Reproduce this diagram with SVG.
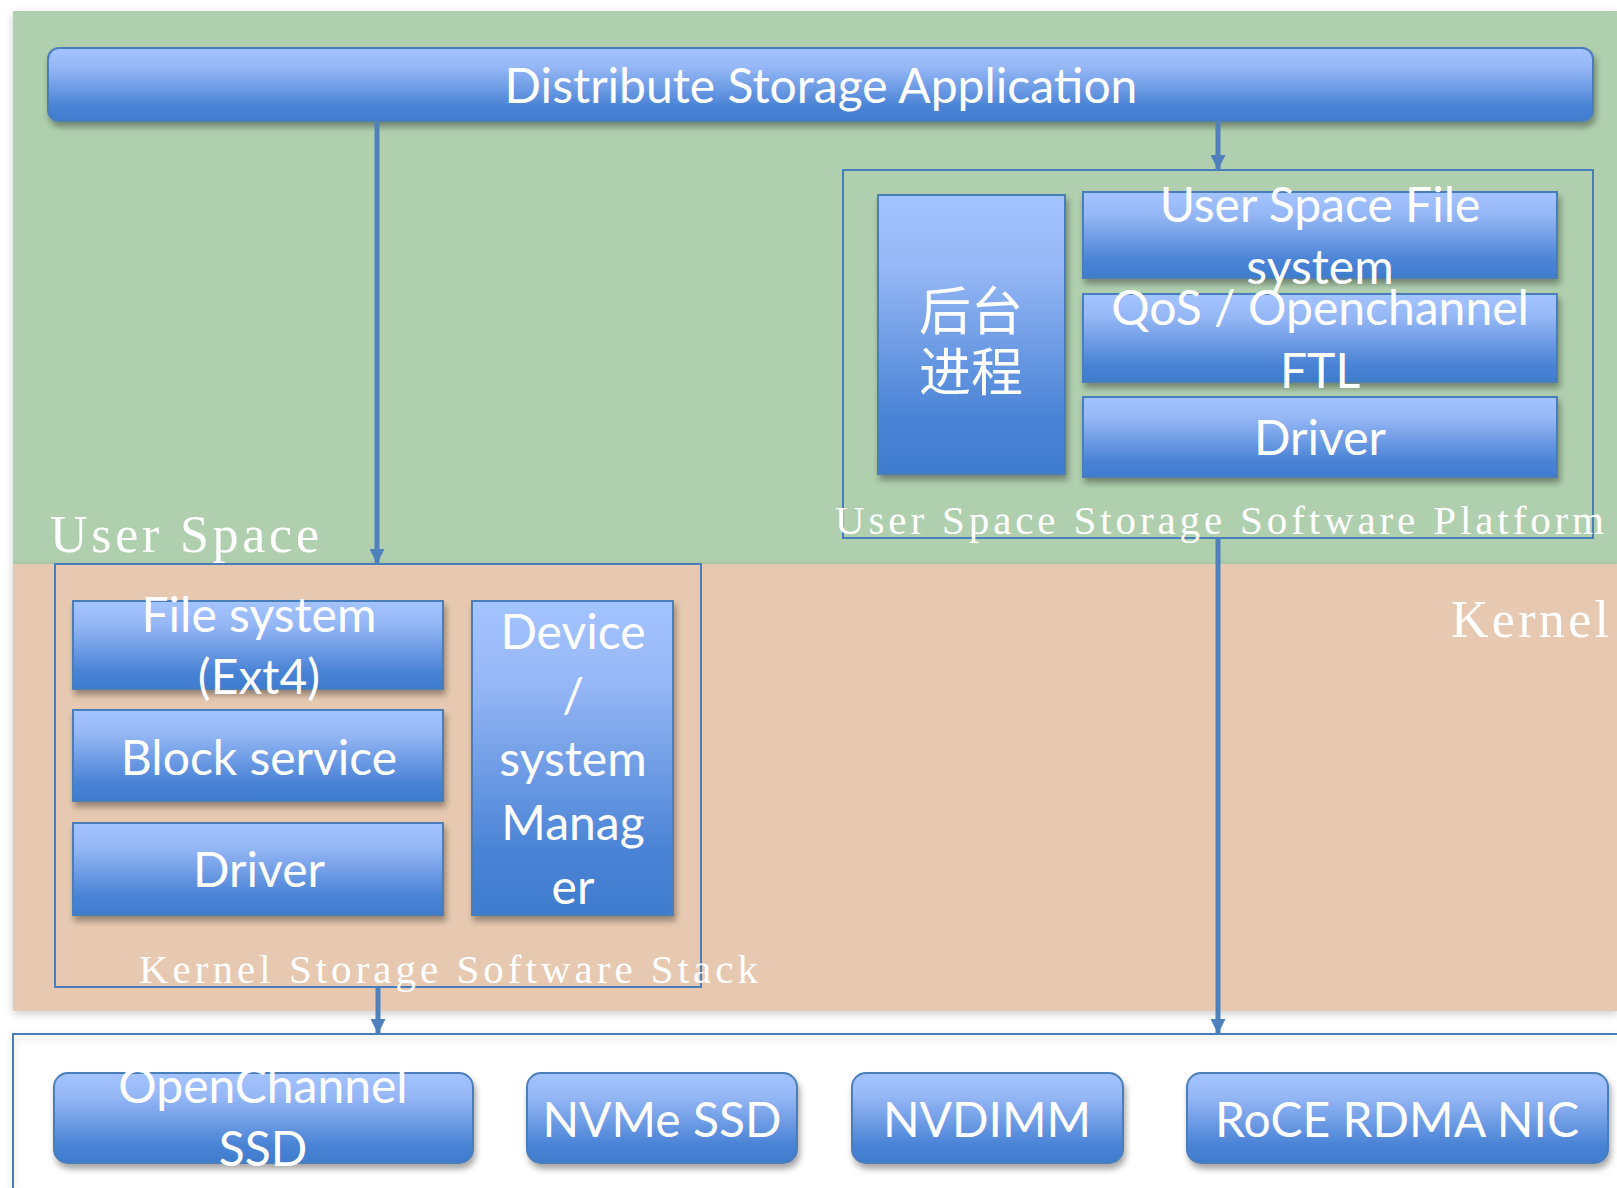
<svg xmlns="http://www.w3.org/2000/svg" width="1617" height="1188" viewBox="0 0 1617 1188">
<defs>
<linearGradient id="g" x1="0" y1="0" x2="0" y2="1">
<stop offset="0" stop-color="#a3c4ff"/>
<stop offset="0.25" stop-color="#97b8f6"/>
<stop offset="0.8" stop-color="#4a83d5"/>
<stop offset="1" stop-color="#3f7cce"/>
</linearGradient>
<filter id="sh" x="-10%" y="-20%" width="120%" height="150%">
<feDropShadow dx="2" dy="5" stdDeviation="3" flood-color="#000" flood-opacity="0.35"/>
</filter>
<filter id="sh2" x="-5%" y="-5%" width="110%" height="110%">
<feDropShadow dx="0" dy="3" stdDeviation="4" flood-color="#000" flood-opacity="0.2"/>
</filter>
<marker id="arr" viewBox="0 0 10 10" refX="10" refY="5" markerWidth="3" markerHeight="3" markerUnits="strokeWidth" orient="auto">
<path d="M0,0 L10,5 L0,10 z" fill="#4f81bd"/>
</marker>
<style>
.box{fill:url(#g);stroke:#4a7ebb;stroke-width:2;filter:url(#sh)}
.t{fill:#fff;font-family:Lato,"Open Sans",sans-serif;font-size:48px;text-anchor:middle}
.cjk{fill:#fff;font-family:"Noto Sans CJK SC",sans-serif;font-size:52px;text-anchor:middle}
.lbl{fill:#fff;font-family:"Liberation Serif",serif}
.frame{fill:none;stroke:#4a7ebb;stroke-width:2}
.conn{fill:none;stroke:#4f81bd;stroke-width:5;marker-end:url(#arr)}
</style>
</defs>
<rect width="1617" height="1188" fill="#fff"/>
<g id="regions">
<rect x="13" y="11" width="1604" height="553" fill="#afcfae" filter="url(#sh2)"/>
<rect x="13" y="564" width="1604" height="447" fill="#e6c9b0" filter="url(#sh2)"/>
<path d="M13,1188 V1034 H1617" fill="none" stroke="#4a7ebb" stroke-width="2" filter="url(#sh2)"/>
</g>
<g id="app">
<rect class="box" x="48" y="48" width="1545" height="73" rx="11"/>
<text class="t" x="821" y="103" font-size="52">Distribute Storage Application</text>
</g>
<g id="user-platform">
<rect class="frame" x="843" y="170" width="750" height="368"/>
</g>
<g id="daemon">
<rect class="box" x="878" y="195" width="187" height="279"/>
<text class="cjk" x="971" y="330">后台</text>
<text class="cjk" x="971" y="391">进程</text>
</g>
<g id="usfs">
<rect class="box" x="1083" y="192" width="474" height="86"/>
<text class="t" x="1320" y="222">User Space File</text>
<text class="t" x="1320" y="284">system</text>
</g>
<g id="qos">
<rect class="box" x="1083" y="294" width="474" height="88"/>
<text class="t" x="1320" y="325">QoS / Openchannel</text>
<text class="t" x="1320" y="388">FTL</text>
</g>
<g id="udriver">
<rect class="box" x="1083" y="397" width="474" height="80"/>
<text class="t" x="1320" y="455">Driver</text>
</g>
<g id="kernel-stack">
<rect class="frame" x="55" y="564" width="646" height="423"/>
</g>
<g id="fs">
<rect class="box" x="73" y="601" width="370" height="88"/>
<text class="t" x="259" y="632">File system</text>
<text class="t" x="259" y="694">(Ext4)</text>
</g>
<g id="block">
<rect class="box" x="73" y="710" width="370" height="91"/>
<text class="t" x="259" y="775">Block service</text>
</g>
<g id="kdriver">
<rect class="box" x="73" y="823" width="370" height="92"/>
<text class="t" x="259" y="887">Driver</text>
</g>
<g id="devmgr">
<rect class="box" x="472" y="601" width="201" height="314"/>
<text class="t" x="573" y="649">Device</text>
<text class="t" x="573" y="713">/</text>
<text class="t" x="573" y="776">system</text>
<text class="t" x="573" y="840">Manag</text>
<text class="t" x="573" y="904">er</text>
</g>
<g id="ocssd">
<rect class="box" x="54" y="1073" width="419" height="90" rx="14"/>
<text class="t" x="263" y="1103">OpenChannel</text>
<text class="t" x="263" y="1166">SSD</text>
</g>
<g id="nvme">
<rect class="box" x="527" y="1073" width="270" height="90" rx="14"/>
<text class="t" x="662" y="1137">NVMe SSD</text>
</g>
<g id="nvdimm">
<rect class="box" x="852" y="1073" width="271" height="90" rx="14"/>
<text class="t" x="987" y="1137">NVDIMM</text>
</g>
<g id="roce">
<rect class="box" x="1187" y="1073" width="421" height="90" rx="14"/>
<text class="t" x="1397" y="1137">RoCE RDMA NIC</text>
</g>
<g id="connectors">
<line class="conn" x1="377" y1="121" x2="377" y2="564"/>
<line class="conn" x1="1218" y1="121" x2="1218" y2="170"/>
<line class="conn" x1="1218" y1="538" x2="1218" y2="1034"/>
<line class="conn" x1="378" y1="987" x2="378" y2="1034"/>
</g>
<g id="labels">
<text class="lbl" x="50" y="552" font-size="52" textLength="269" lengthAdjust="spacing">User Space</text>
<text class="lbl" x="1451" y="637" font-size="52" textLength="158" lengthAdjust="spacing">Kernel</text>
<text class="lbl" x="835" y="534" font-size="41" textLength="769" lengthAdjust="spacing">User Space Storage Software Platform</text>
<text class="lbl" x="139" y="983" font-size="41" textLength="619" lengthAdjust="spacing">Kernel Storage Software Stack</text>
</g>
</svg>
